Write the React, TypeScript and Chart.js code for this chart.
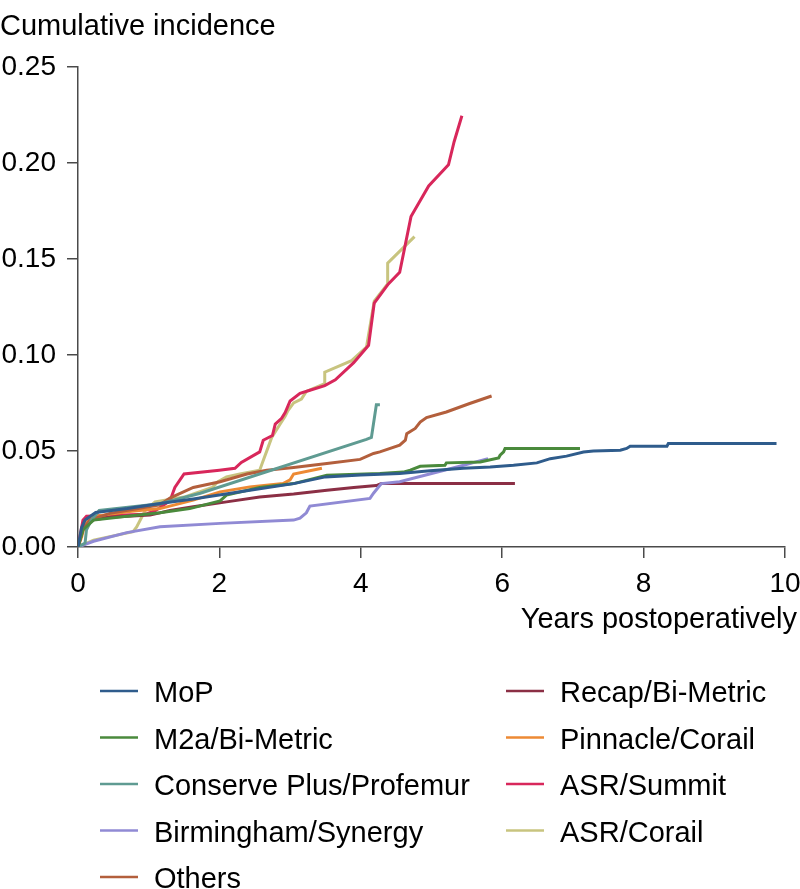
import React, { useEffect, useRef } from "react";
import { Chart, registerables } from "chart.js";

Chart.register(...registerables);

// ---- Data (years postoperatively, cumulative incidence) ----
const SERIES_LABELS = [
  "MoP",
  "M2a/Bi-Metric",
  "Conserve Plus/Profemur",
  "Birmingham/Synergy",
  "Others",
  "Recap/Bi-Metric",
  "Pinnacle/Corail",
  "ASR/Summit",
  "ASR/Corail",
];

const SERIES_COLORS = [
  "#2f5c8c",
  "#4a8a3c",
  "#5f9b92",
  "#908ad4",
  "#b35f3c",
  "#8b2f45",
  "#ed8a34",
  "#d8275b",
  "#c8c47f",
];

const MOP_T = [0, 0.05, 0.1, 0.25, 0.7, 1.16, 1.63, 2.34, 3.05, 3.5, 4.0, 4.55, 4.98, 5.45, 5.83, 6.16, 6.49, 6.68, 6.91, 7.15, 7.29, 7.67, 7.76, 7.81, 8.33, 8.35, 9.88];
const MOP_V = [0, 0.01, 0.014, 0.018, 0.02, 0.0227, 0.025, 0.029, 0.033, 0.0365, 0.0375, 0.0383, 0.0397, 0.041, 0.0417, 0.0426, 0.0438, 0.046, 0.0473, 0.0495, 0.05, 0.0504, 0.0513, 0.0525, 0.0525, 0.0539, 0.0539];

const M2A_T = [0, 0.07, 0.22, 0.69, 1.16, 1.58, 2.01, 2.1, 2.57, 3.05, 3.52, 4.27, 4.6, 4.7, 4.84, 5.19, 5.21, 5.69, 5.8, 5.95, 5.97, 6.02, 6.04, 7.1];
const M2A_V = [0, 0.009, 0.014, 0.016, 0.0178, 0.02, 0.024, 0.027, 0.031, 0.033, 0.0374, 0.0383, 0.039, 0.04, 0.042, 0.0426, 0.0438, 0.0443, 0.0452, 0.0464, 0.0478, 0.0495, 0.0513, 0.0513];

const CONSERVE_T = [0, 0.1, 0.12, 0.19, 0.3, 1.16, 1.73, 4.08, 4.15, 4.22, 4.27];
const CONSERVE_V = [0, 0.002, 0.009, 0.014, 0.019, 0.0225, 0.028, 0.056, 0.057, 0.074, 0.074];

const BIRMINGHAM_T = [0, 0.22, 0.69, 1.16, 2.01, 3.05, 3.14, 3.23, 3.28, 4.13, 4.18, 4.29, 4.55, 5.4, 5.8];
const BIRMINGHAM_V = [0, 0.003, 0.0075, 0.0105, 0.0123, 0.014, 0.015, 0.0178, 0.0213, 0.0253, 0.028, 0.033, 0.034, 0.042, 0.046];

const OTHERS_T = [0, 0.07, 0.17, 0.45, 1.16, 1.3, 1.63, 2.01, 2.39, 2.67, 3.05, 3.52, 3.99, 4.18, 4.27, 4.55, 4.63, 4.65, 4.77, 4.84, 4.93, 5.21, 5.54, 5.85];
const OTHERS_V = [0, 0.009, 0.014, 0.0175, 0.022, 0.0255, 0.031, 0.034, 0.038, 0.04, 0.0414, 0.0435, 0.0456, 0.0487, 0.0495, 0.053, 0.0556, 0.059, 0.0617, 0.065, 0.0674, 0.0703, 0.0747, 0.0786];

const RECAP_T = [0, 0.07, 0.2, 0.45, 1.02, 1.3, 1.63, 2.1, 2.57, 3.05, 3.52, 3.9, 4.22, 4.29, 6.18];
const RECAP_V = [0, 0.01, 0.014, 0.0155, 0.0166, 0.019, 0.021, 0.0235, 0.026, 0.0276, 0.0296, 0.031, 0.032, 0.033, 0.033];

const PINNACLE_T = [0, 0.05, 0.1, 0.22, 0.69, 1.16, 1.63, 2.01, 2.43, 2.9, 3.0, 3.05, 3.45];
const PINNACLE_V = [0, 0.005, 0.012, 0.0158, 0.0183, 0.02, 0.0244, 0.0287, 0.0313, 0.033, 0.035, 0.038, 0.041];

const SUMMIT_T = [0, 0.07, 0.12, 0.95, 1.1, 1.3, 1.37, 1.5, 2.0, 2.22, 2.31, 2.57, 2.62, 2.75, 2.79, 2.88, 2.93, 3.0, 3.14, 3.28, 3.49, 3.64, 3.9, 4.11, 4.19, 4.39, 4.55, 4.71, 4.96, 5.24, 5.32, 5.43];
const SUMMIT_V = [0, 0.014, 0.016, 0.017, 0.019, 0.024, 0.031, 0.038, 0.04, 0.041, 0.044, 0.0495, 0.0556, 0.058, 0.064, 0.067, 0.07, 0.076, 0.08, 0.0816, 0.084, 0.087, 0.096, 0.105, 0.127, 0.137, 0.143, 0.172, 0.188, 0.199, 0.211, 0.2245];

const CORAIL_T = [0, 0.22, 0.78, 0.83, 0.95, 1.09, 1.5, 1.9, 1.98, 2.1, 2.29, 2.57, 2.62, 2.69, 2.74, 2.86, 2.93, 2.97, 3.05, 3.16, 3.23, 3.49, 3.49, 3.87, 4.08, 4.19, 4.38, 4.38, 4.76];
const CORAIL_V = [0, 0.0036, 0.008, 0.0105, 0.019, 0.0235, 0.026, 0.031, 0.034, 0.0365, 0.038, 0.04, 0.045, 0.052, 0.057, 0.064, 0.068, 0.071, 0.075, 0.077, 0.081, 0.085, 0.091, 0.097, 0.104, 0.128, 0.137, 0.1478, 0.1616];

const SERIES_T = [MOP_T, M2A_T, CONSERVE_T, BIRMINGHAM_T, OTHERS_T, RECAP_T, PINNACLE_T, SUMMIT_T, CORAIL_T];
const SERIES_V = [MOP_V, M2A_V, CONSERVE_V, BIRMINGHAM_V, OTHERS_V, RECAP_V, PINNACLE_V, SUMMIT_V, CORAIL_V];

const X_TICKS = [0, 2, 4, 6, 8, 10];
const Y_TICKS = [0, 0.05, 0.1, 0.15, 0.2, 0.25];

const X_TITLE = "Years postoperatively";

const FONT_FAMILY = "'Liberation Sans', Arial, Helvetica, sans-serif";
const AXIS_COLOR = "#4a4a4a";

// X-axis title, right-aligned slightly beyond the axis end (as in the original)
const xTitlePlugin = {
  id: "xTitle",
  afterDraw(chart: any) {
    const ctx = chart.ctx;
    const xs = chart.scales.x;
    ctx.save();
    ctx.font = `29px ${FONT_FAMILY}`;
    ctx.fillStyle = "#000";
    ctx.textAlign = "right";
    ctx.textBaseline = "middle";
    ctx.fillText(X_TITLE, chart.width - 3, xs.bottom - 17);
    ctx.restore();
  },
};

// Legend drawn in two columns (column-major, 5 rows)
const legendPlugin = {
  id: "twoColLegend",
  afterDraw(chart: any) {
    const ctx = chart.ctx;
    const ds = chart.data.datasets;
    const rows = 5;
    const colLineX = [100, 506];
    const lineLen = 38;
    const textGap = 16;
    const rowY0 = 693;
    const rowStep = 46.5;
    ctx.save();
    ctx.font = `29px ${FONT_FAMILY}`;
    ctx.textBaseline = "middle";
    ctx.textAlign = "left";
    ds.forEach((d: any, i: number) => {
      const col = Math.floor(i / rows);
      const row = i % rows;
      const y = rowY0 + row * rowStep;
      const x = colLineX[col];
      ctx.strokeStyle = d.borderColor;
      ctx.lineWidth = 2.5;
      ctx.beginPath();
      ctx.moveTo(x, y - 2);
      ctx.lineTo(x + lineLen, y - 2);
      ctx.stroke();
      ctx.fillStyle = "#000";
      ctx.fillText(d.label, x + lineLen + textGap, y + 1);
    });
    ctx.restore();
  },
};

export default function App() {
  const ref = useRef<HTMLCanvasElement | null>(null);

  useEffect(() => {
    document.body.style.margin = "0";
    const canvas = ref.current;
    if (!canvas) return;
    const datasets = SERIES_LABELS.map((label, i) => ({
      label,
      data: SERIES_T[i].map((t, j) => ({ x: t, y: SERIES_V[i][j] })),
      borderColor: SERIES_COLORS[i],
      backgroundColor: SERIES_COLORS[i],
      borderWidth: 3,
      pointRadius: 0,
      tension: 0,
      fill: false,
    }));

    const chart = new Chart(canvas, {
      type: "line",
      data: { datasets },
      options: {
        animation: false,
        responsive: false,
        maintainAspectRatio: false,
        devicePixelRatio: 1,
        layout: { padding: { top: 0, left: 0, right: 0, bottom: 252 } },
        plugins: {
          legend: { display: false },
          tooltip: { enabled: false },
          title: {
            display: true,
            text: "Cumulative incidence",
            align: "start",
            color: "#000",
            font: { family: FONT_FAMILY, size: 29, weight: "normal" },
            padding: { top: 10, bottom: 22 },
          },
        },
        scales: {
          x: {
            type: "linear",
            min: 0,
            max: 10,
            afterBuildTicks: (scale: any) => {
              scale.ticks = X_TICKS.map((v) => ({ value: v }));
            },
            afterFit: (scale: any) => {
              scale.height = 90;
              scale.paddingLeft = 0;
              scale.paddingRight = 15;
            },
            ticks: {
              color: "#000",
              font: { family: FONT_FAMILY, size: 28 },
              padding: 9,
              maxRotation: 0,
              callback: (v: any) => String(v),
            },
            grid: {
              display: true,
              drawOnChartArea: false,
              drawTicks: true,
              tickLength: 11,
              color: AXIS_COLOR,
              lineWidth: 1.5,
            },
            border: { display: true, color: AXIS_COLOR, width: 1.5 },
            title: { display: false },
          },
          y: {
            type: "linear",
            min: 0,
            max: 0.25,
            afterBuildTicks: (scale: any) => {
              scale.ticks = Y_TICKS.map((v) => ({ value: v }));
            },
            afterFit: (scale: any) => {
              scale.width = 78;
            },
            ticks: {
              color: "#000",
              font: { family: FONT_FAMILY, size: 28 },
              padding: 11,
              callback: (v: any) => Number(v).toFixed(2),
            },
            grid: {
              display: true,
              drawOnChartArea: false,
              drawTicks: true,
              tickLength: 11,
              color: AXIS_COLOR,
              lineWidth: 1.5,
            },
            border: { display: true, color: AXIS_COLOR, width: 1.5 },
          },
        },
      },
      plugins: [legendPlugin, xTitlePlugin],
    } as any);

    return () => chart.destroy();
  }, []);

  return (
    <div style={{ width: 800, height: 889, background: "#fff" }}>
      <canvas ref={ref} width={800} height={889} style={{ display: "block" }} />
    </div>
  );
}
